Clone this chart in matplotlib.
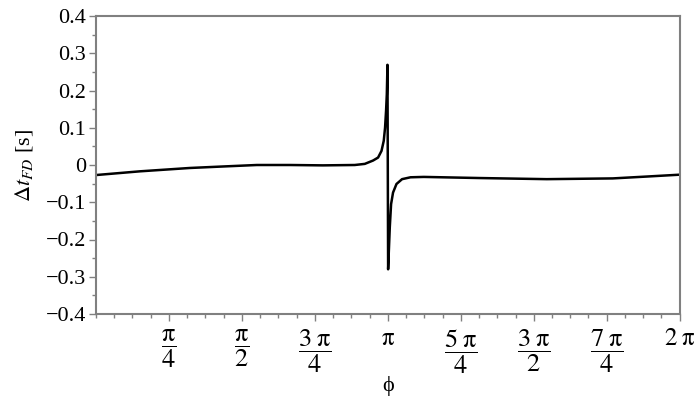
import numpy as np
import matplotlib.pyplot as plt
from matplotlib.ticker import MultipleLocator

plt.rcParams['mathtext.fontset'] = 'stix'
plt.rcParams['font.family'] = ['Liberation Serif', 'DejaVu Serif']

# curve (phi in rad, delta t in s)
phi = [0.0, 0.473, 1.011, 1.366, 1.732, 2.087, 2.442, 2.786, 2.894, 2.983,
       3.037, 3.074, 3.098, 3.112, 3.123, 3.131, 3.138,
       3.145, 3.163, 3.177, 3.198, 3.235, 3.295, 3.386, 3.529,
       4.131, 4.852, 5.562, 5.928, 6.283]
dt = [-0.027, -0.017, -0.008, -0.004, 0.0, 0.0, -0.001, 0.0, 0.003, 0.012,
      0.020, 0.038, 0.065, 0.10, 0.146, 0.19, 0.269,
      -0.28, -0.167, -0.105, -0.074, -0.051, -0.038, -0.033, -0.032,
      -0.035, -0.038, -0.036, -0.031, -0.026]

xticks = [np.pi / 4, np.pi / 2, 3 * np.pi / 4, np.pi, 5 * np.pi / 4,
          3 * np.pi / 2, 7 * np.pi / 4, 2 * np.pi]
xlabels = [r'$\dfrac{\mathrm{\pi}}{4}$', r'$\dfrac{\mathrm{\pi}}{2}$',
           r'$\dfrac{3\;\mathrm{\pi}}{4}$', r'$\mathrm{\pi}$',
           r'$\dfrac{5\;\mathrm{\pi}}{4}$', r'$\dfrac{3\;\mathrm{\pi}}{2}$',
           r'$\dfrac{7\;\mathrm{\pi}}{4}$', r'$2\;\mathrm{\pi}$']
yticks = [-0.4, -0.3, -0.2, -0.1, 0.0, 0.1, 0.2, 0.3, 0.4]
ylabels = ['\u22120.4', '\u22120.3', '\u22120.2', '\u22120.1', '0',
           '0.1', '0.2', '0.3', '0.4']

fig = plt.figure(figsize=(7, 4), dpi=100)
ax = fig.add_axes([0.137, 0.215, 0.834, 0.745])

ax.plot(phi, dt, color='black', lw=1.8)

ax.set_xlim(0, 2 * np.pi)
ax.set_ylim(-0.4, 0.4)

ax.tick_params(axis='both', which='major', length=5, width=1, color='#808080',
               pad=2)
ax.tick_params(axis='y', which='major', labelsize=16)
ax.tick_params(axis='x', which='major', pad=5)
ax.tick_params(axis='both', which='minor', length=3, width=1, color='#808080')

ax.set_xticks(xticks)
ax.set_xticklabels(xlabels, va='top')
# fractions get shrunk by mathtext, so give them a bigger size
for lab in ax.get_xticklabels():
    lab.set_fontsize(19 if 'dfrac' in lab.get_text() else 18)
ax.xaxis.set_minor_locator(MultipleLocator(np.pi / 16))
ax.set_yticks(yticks)
ax.set_yticklabels(ylabels)
ax.yaxis.set_minor_locator(MultipleLocator(0.05))

for s in ax.spines.values():
    s.set_color('#808080')
    s.set_linewidth(1.5)

ax.set_xlabel('\u03d5', fontsize=16, labelpad=0)
ax.set_ylabel(r'$\Delta t_{FD}$ [s]', fontsize=16, labelpad=8)

fig.savefig('out.png', dpi=100)
